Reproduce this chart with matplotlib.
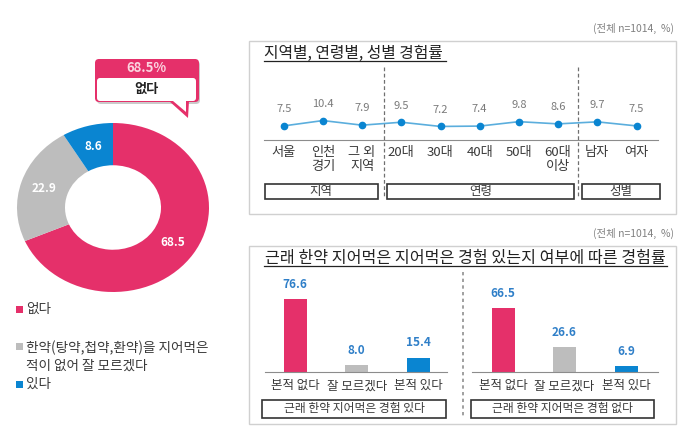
#!/usr/bin/env python
import matplotlib
matplotlib.use("Agg")
import matplotlib.pyplot as plt
from matplotlib.patches import FancyBboxPatch, Rectangle, Polygon

plt.rcParams["font.family"] = ["Noto Sans CJK KR", "DejaVu Sans"]

# 데이터
pie_values = [68.5, 22.9, 8.6]
pie_colors = ["#E5306A", "#BDBDBD", "#0A85D1"]
pie_legend = ["없다", "한약(탕약,첩약,환약)을 지어먹은\n적이 없어 잘 모르겠다", "있다"]

line_labels = ["서울", "인천\n경기", "그 외\n지역", "20대", "30대", "40대", "50대", "60대\n이상", "남자", "여자"]
line_values = [7.5, 10.4, 7.9, 9.5, 7.2, 7.4, 9.8, 8.6, 9.7, 7.5]
line_groups = ["지역", "연령", "성별"]

bar_labels = ["본적 없다", "잘 모르겠다", "본적 있다"]
bar_left = [76.6, 8.0, 15.4]
bar_right = [66.5, 26.6, 6.9]
bar_groups = ["근래 한약 지어먹은 경험 있다", "근래 한약 지어먹은 경험 없다"]

W, H = 680, 434
DARK = "#3A3A3A"
BLUE_TXT = "#2F7FC8"
PINK = pie_colors[0]


def px_axes(fig, x0, y0, x1, y1, **kw):
    # 픽셀 좌표(위쪽 원점)로 axes 배치
    return fig.add_axes([x0 / W, 1 - y1 / H, (x1 - x0) / W, (y1 - y0) / H], **kw)


fig = plt.figure(figsize=(W / 100, H / 100), dpi=100)

# 장식/텍스트용 전체 픽셀 axes
bg = fig.add_axes([0, 0, 1, 1])
bg.set_xlim(0, W)
bg.set_ylim(H, 0)
bg.axis("off")

# 도넛 (원본 이미지가 세로로 눌려 있음)
ax = px_axes(fig, 17, 123, 209, 292)
wedges, _, autotexts = ax.pie(pie_values, colors=pie_colors, startangle=90, counterclock=False,
                              radius=1, wedgeprops=dict(width=0.5, edgecolor="none"),
                              autopct="%.1f", pctdistance=0.75,
                              textprops=dict(color="white", fontsize=8.5, fontweight="bold"))
ax.set_aspect("auto")
ax.set_xlim(-1, 1)
ax.set_ylim(-1, 1)

# 말풍선
bg.add_patch(FancyBboxPatch((97, 61), 103, 43, boxstyle="round,pad=0,rounding_size=4",
                            fc="#A8A8A8", ec="none", alpha=0.6))
bg.add_patch(Polygon([[169, 101], [188, 118], [189, 101]], fc=PINK, ec="none"))
bg.add_patch(FancyBboxPatch((95, 59), 104, 43, boxstyle="round,pad=0,rounding_size=4",
                            fc=PINK, ec="none"))
bg.add_patch(FancyBboxPatch((97, 78), 99, 23, boxstyle="round,pad=0,rounding_size=3",
                            fc="white", ec="none"))
bg.add_patch(Polygon([[173, 101], [186, 112], [186, 101]], fc="white", ec="none"))
bg.text(146.5, 68.5, "68.5%", color="#FBD5E0", fontsize=9.5, fontweight="bold", ha="center", va="center")
bg.text(146.5, 88.5, "없다", color="#222222", fontsize=9.5, fontweight="bold", ha="center", va="center")

# 범례
for y, c in zip([309, 346, 384], pie_colors):
    bg.add_patch(Rectangle((16, y - 3.5), 7, 7, fc=c, ec="none"))
for y, t in zip([309, 356.5, 384], pie_legend):
    bg.text(26, y, t, color=DARK, fontsize=9.8, ha="left", va="center", linespacing=1.33)

# 패널 프레임
for y0, y1 in [(41, 214), (246, 424)]:
    bg.add_patch(Rectangle((249, y0), 427, y1 - y0, fc="none", ec="#D0D0D0", lw=1))
for y in (28, 233):
    bg.text(674, y, "(전체 n=1014,  %)", color="#808080", fontsize=7.5, ha="right", va="center")

# 제목
bg.text(264, 53, "지역별, 연령별, 성별 경험률", color="#222222", fontsize=11.4, ha="left", va="center")
bg.plot([264, 446], [61, 61], color="#222222", lw=0.9)
bg.text(265, 258, "근래 한약 지어먹은 지어먹은 경험 있는지 여부에 따른 경험률", color="#222222",
        fontsize=11.6, ha="left", va="center")
bg.plot([264, 667], [266, 266], color="#222222", lw=0.9)

# 꺾은선
step = 39.2
axl = px_axes(fig, 264, 70, 658, 139.7)
axl.patch.set_alpha(0)
xs = list(range(len(line_values)))
axl.plot(xs, line_values, color="#5BAEDD", lw=1.2, marker="o", ms=4.5,
         mfc="#0A85D1", mec="#0A85D1", clip_on=False)
axl.set_xlim(-(283.7 - 264) / step, (658 - 283.7) / step)
axl.set_ylim(0, 69.7 / 1.84)
for s in ("top", "left", "right"):
    axl.spines[s].set_visible(False)
axl.spines["bottom"].set_color("#8C8C8C")
axl.set_yticks([])
axl.set_xticks(xs)
axl.set_xticklabels(line_labels, fontsize=9.5, color=DARK, linespacing=1.12, va="top")
axl.tick_params(axis="x", length=0, pad=4.5)
for x, v in zip(xs, line_values):
    axl.annotate(f"{v:.1f}", (x, v), xytext=(0, 12), textcoords="offset points", ha="center", va="center",
                 fontsize=8, color="#7A7A7A")

# 구분 점선
for x in (383.5, 578):
    bg.plot([x, x], [66.5, 198], color="#707070", lw=0.9, ls=(0, (3, 2)))
bg.plot([463.3, 463.3], [271.5, 418], color="#909090", lw=1.2, ls=(0, (2, 2)))

# 그룹 박스
for (x0, x1), t in zip([(264.5, 378), (386.5, 574), (582, 660)], line_groups):
    bg.add_patch(Rectangle((x0, 184), x1 - x0, 15, fc="white", ec="#333333", lw=1.2))
    bg.text((x0 + x1) / 2, 191, t, color=DARK, fontsize=9, ha="center", va="center")
for (x0, x1), t in zip([(262, 446), (471, 654)], bar_groups):
    bg.add_patch(Rectangle((x0, 400), x1 - x0, 18, fc="white", ec="#333333", lw=1.2))
    bg.text((x0 + x1) / 2, 408.5, t, color=DARK, fontsize=8.5, ha="center", va="center")


# 막대
def draw_bars(x0, x1, first, values):
    a = px_axes(fig, x0, 275, x1, 372.3)
    a.patch.set_alpha(0)
    pos = range(len(values))
    a.bar(pos, values, width=23 / 61.5, color=pie_colors)
    a.set_xlim(-(first - x0) / 61.5, (x1 - first) / 61.5)
    a.set_ylim(0, 97.3 / 0.961)
    for s in ("top", "left", "right"):
        a.spines[s].set_visible(False)
    a.spines["bottom"].set_color("#8C8C8C")
    a.set_yticks([])
    a.set_xticks(list(pos))
    a.set_xticklabels(bar_labels, fontsize=9, color=DARK)
    a.tick_params(axis="x", length=0, pad=5)
    for x, v in zip(pos, values):
        a.annotate(f"{v:.1f}", (x, v), xytext=(0, 10.5), textcoords="offset points", ha="center", va="center",
                   fontsize=8.5, fontweight="bold", color=BLUE_TXT)


draw_bars(265, 447, 295.3, bar_left)
draw_bars(472, 658, 503, bar_right)

fig.savefig("out.png", dpi=100)
